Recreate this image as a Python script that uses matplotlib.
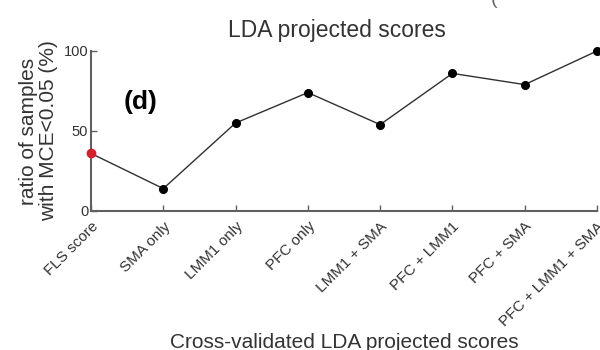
import matplotlib
matplotlib.use("Agg")
import matplotlib.pyplot as plt

plt.rcParams['font.family'] = ['Liberation Sans', 'DejaVu Sans']

# ratio of samples with MCE < 0.05 for each feature set
feature_sets = ['FLS score', 'SMA only', 'LMM1 only', 'PFC only',
                'LMM1 + SMA', 'PFC + LMM1', 'PFC + SMA', 'PFC + LMM1 + SMA']
ratio_pct = [36, 14, 55, 74, 54, 86, 79, 100]
yticks = [0, 50, 100]

axis_grey = '#606060'
text_grey = '#333333'

fig = plt.figure(figsize=(6, 3.5), dpi=100)
ax = fig.add_axes([91/600, 1 - 211/350, (597 - 91)/600, (211 - 51)/350])

x = list(range(len(feature_sets)))
ax.plot(x, ratio_pct, '-', color='#303030', lw=1.0, zorder=2, clip_on=False)
ax.plot(x[1:], ratio_pct[1:], 'o', color='black', ms=5.5, zorder=3, clip_on=False)
ax.plot(x[0], ratio_pct[0], 'o', color='#d61f26', ms=6, zorder=3, clip_on=False)

ax.set_xlim(0, len(feature_sets) - 1)
ax.set_ylim(0, 100)
ax.set_yticks(yticks)
ax.set_xticks(x)
ax.set_xticklabels(feature_sets, rotation=45, ha='right', rotation_mode='anchor',
                   fontsize=11, color=text_grey)
ax.tick_params(axis='both', direction='in', length=4, width=1, color=axis_grey)
ax.tick_params(axis='y', labelsize=10.5, labelcolor=text_grey, pad=2)
ax.tick_params(axis='x', pad=6)

for side in ['top', 'right']:
    ax.spines[side].set_visible(False)
for side in ['left', 'bottom']:
    ax.spines[side].set_color(axis_grey)
    ax.spines[side].set_linewidth(1.5)

ax.set_ylabel('ratio of samples\nwith MCE<0.05 (%)', fontsize=15, color=text_grey,
              linespacing=1.05, labelpad=4)
fig.text(337/600, 1 - 30/350, 'LDA projected scores', ha='center', va='center',
         fontsize=16.5, color=text_grey)
fig.text(344/600, 1 - 342/350, 'Cross-validated LDA projected scores', ha='center',
         va='center', fontsize=15, color=text_grey)
ax.text(0.097, 0.68, '(d)', transform=ax.transAxes, ha='center', va='center',
        fontsize=19, fontweight='bold', color='black')
# edge of the neighbouring panel's label
fig.text(494/600, 1.0, '(', ha='center', va='center', fontsize=14, color='#666666')

fig.savefig('out.png', dpi=100)
